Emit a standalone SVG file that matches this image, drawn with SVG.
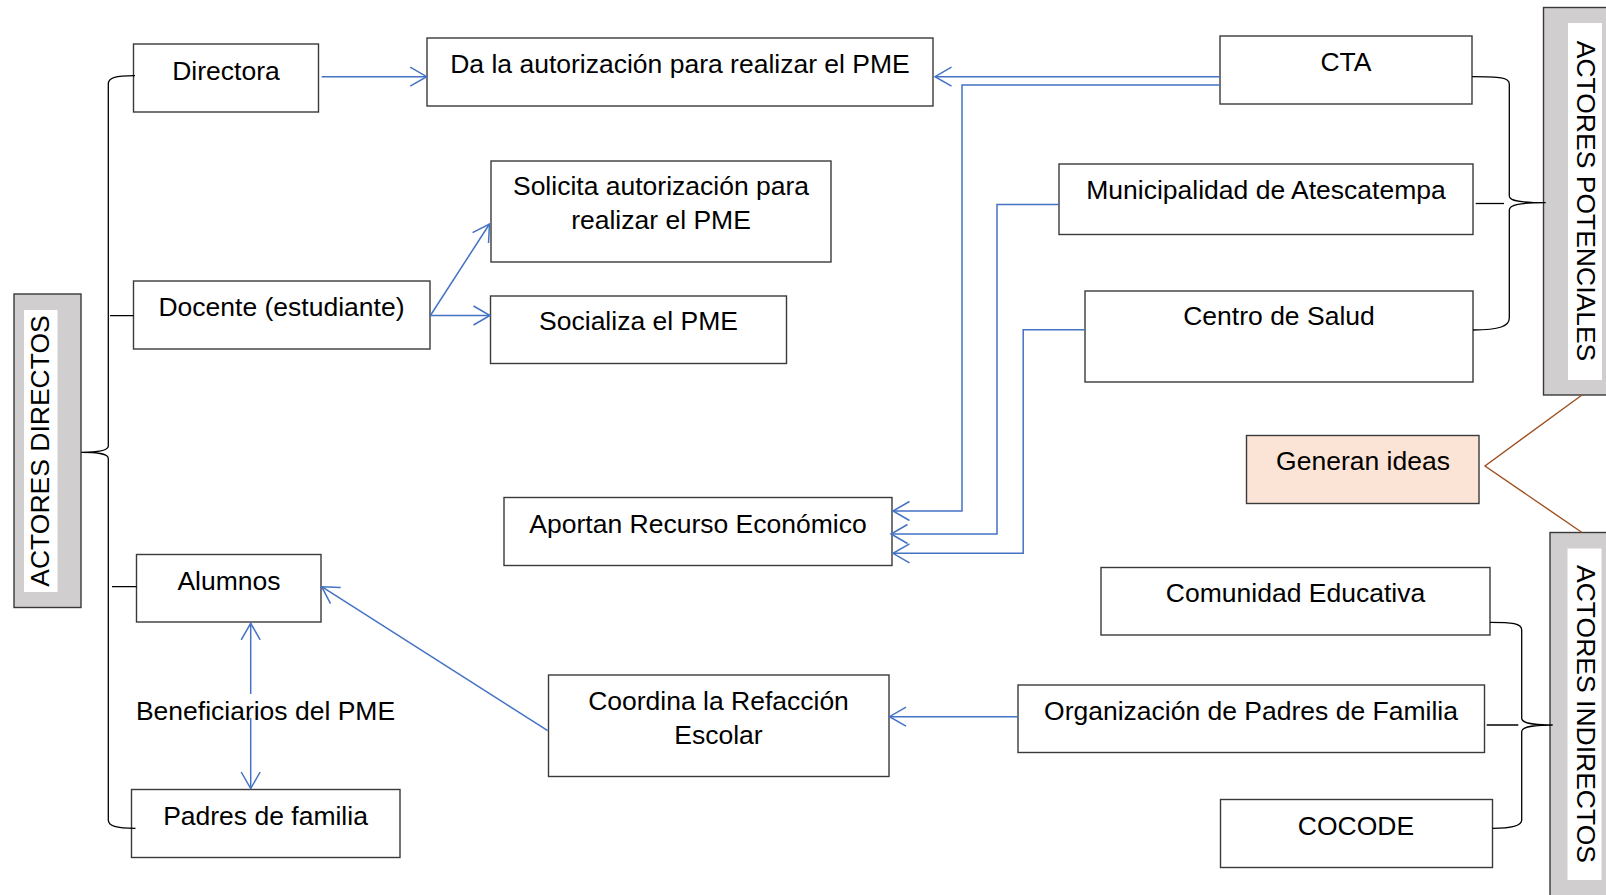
<svg xmlns="http://www.w3.org/2000/svg" width="1606" height="895" viewBox="0 0 1606 895">
<style>
.box{fill:#fff;stroke:#3a3a3a;stroke-width:1.4}
.grp{fill:#D0CECE;stroke:#3a3a3a;stroke-width:1.4}
.strip{fill:#fff;stroke:none}
.t{font-family:"Liberation Sans",Arial,sans-serif;font-size:26.5px;fill:#000;text-anchor:middle}
.br{fill:none;stroke:#000;stroke-width:1.3}
.bl{fill:none;stroke:#4472C4;stroke-width:1.5}
.brown{fill:none;stroke:#A0501E;stroke-width:1.4}
</style>
<defs>
<marker id="arr" viewBox="-19 -12 21 24" refX="0" refY="0" markerWidth="21" markerHeight="24" markerUnits="userSpaceOnUse" orient="auto-start-reverse">
<path d="M-16.5,-9.5 L0,0 L-16.5,9.5" fill="none" stroke="#4472C4" stroke-width="1.5"/>
</marker>
</defs>
<rect width="1606" height="895" fill="#fff"/>

<g id="actores-directos">
<rect class="grp" x="14" y="294" width="67" height="313.5"/>
<rect class="strip" x="24" y="310" width="33.5" height="282"/>
<text class="t" transform="translate(39.5,451) rotate(-90)" y="9.5">ACTORES DIRECTOS</text>
</g>
<g id="actores-potenciales">
<rect class="grp" x="1543.5" y="7.5" width="80" height="387.5"/>
<rect class="strip" x="1568" y="23" width="34" height="357"/>
<text class="t" transform="translate(1586,201) rotate(90)" y="9.5">ACTORES POTENCIALES</text>
</g>
<g id="actores-indirectos">
<rect class="grp" x="1550" y="532.5" width="80" height="380"/>
<rect class="strip" x="1567.5" y="548.5" width="34" height="331.5"/>
<text class="t" transform="translate(1586,714) rotate(90)" y="9.5">ACTORES INDIRECTOS</text>
</g>

<g id="directora"><rect class="box" x="133.5" y="44" width="185" height="68"/><text class="t" x="226" y="79.5">Directora</text></g>
<g id="docente"><rect class="box" x="133.5" y="281" width="296.5" height="68"/><text class="t" x="281.5" y="315.5">Docente (estudiante)</text></g>
<g id="alumnos"><rect class="box" x="136.5" y="554.5" width="184.5" height="67.5"/><text class="t" x="229" y="589.5">Alumnos</text></g>
<g id="padres"><rect class="box" x="131.5" y="789.5" width="268.5" height="68"/><text class="t" x="265.5" y="824.5">Padres de familia</text></g>
<g id="beneficiarios"><text class="t" x="265.5" y="720">Beneficiarios del PME</text></g>

<g id="da-autorizacion"><rect class="box" x="427" y="38" width="506" height="68"/><text class="t" x="680" y="73">Da la autorización para realizar el PME</text></g>
<g id="solicita"><rect class="box" x="491" y="161" width="340" height="101"/><text class="t" x="661" y="195">Solicita autorización para</text><text class="t" x="661" y="228.5">realizar el PME</text></g>
<g id="socializa"><rect class="box" x="490.5" y="296" width="296" height="67.5"/><text class="t" x="638.5" y="330">Socializa el PME</text></g>
<g id="aportan"><rect class="box" x="504" y="497.5" width="388" height="68"/><text class="t" x="698" y="532.5">Aportan Recurso Económico</text></g>
<g id="coordina"><rect class="box" x="548.5" y="675" width="340.5" height="101.5"/><text class="t" x="718.5" y="710">Coordina la Refacción</text><text class="t" x="718.5" y="743.5">Escolar</text></g>

<g id="cta"><rect class="box" x="1220" y="36" width="252" height="68"/><text class="t" x="1346" y="71">CTA</text></g>
<g id="municipalidad"><rect class="box" x="1059" y="164" width="414" height="70.5"/><text class="t" x="1266" y="198.5">Municipalidad de Atescatempa</text></g>
<g id="centro-salud"><rect class="box" x="1085" y="291" width="388" height="91"/><text class="t" x="1279" y="325">Centro de Salud</text></g>
<g id="generan-ideas"><rect x="1246.5" y="435.5" width="232.5" height="68" fill="#FBE4D5" stroke="#3a3a3a" stroke-width="1.4"/><text class="t" x="1363" y="470">Generan ideas</text></g>
<g id="comunidad"><rect class="box" x="1101" y="567.5" width="389" height="67.5"/><text class="t" x="1295.5" y="601.5">Comunidad Educativa</text></g>
<g id="organizacion"><rect class="box" x="1018" y="685" width="466.5" height="67.5"/><text class="t" x="1251" y="719.5">Organización de Padres de Familia</text></g>
<g id="cocode"><rect class="box" x="1220.5" y="799.5" width="272" height="68"/><text class="t" x="1356" y="834.5">COCODE</text></g>

<g id="connectors">
<path class="br" d="M135,75.7 C116,76 108.3,77 108.3,84 L108.3,446 C108.3,450.5 100,452.3 81.3,452.3 C100,452.3 108.3,454 108.3,458.5 L108.3,820 C108.3,826 116,828.3 135.5,828.3"/>
<path class="br" d="M110,315.7 L133.5,315.7 M112,586.7 L136.5,586.7"/>
<path class="br" d="M1472,76.7 C1500,76.7 1509.3,77.5 1509.3,84 L1509.3,196 C1509.3,201 1520,202.7 1545.7,202.7 C1520,202.7 1509.3,204.5 1509.3,210 L1509.3,318 C1509.3,326 1500,330 1473,330"/>
<path class="br" d="M1475.7,203.5 L1504,203.5"/>
<path class="br" d="M1490,622.3 C1512,622.3 1521.7,623.5 1521.7,630 L1521.7,718 C1521.7,723 1530,725 1552.7,725 C1530,725 1521.7,727 1521.7,732 L1521.7,820 C1521.7,826 1512,828.3 1492.5,828.3"/>
<path class="br" d="M1486.7,725 L1518.3,725"/>
<path class="brown" d="M1582,395 L1485,466 L1582,532.5"/>

<path class="bl" marker-end="url(#arr)" d="M321.7,76.7 L426.7,76.7"/>
<path class="bl" marker-end="url(#arr)" d="M430.4,315.5 L490,315.5"/>
<path class="bl" marker-end="url(#arr)" d="M430.4,315.5 L489.5,224"/>
<path class="bl" marker-end="url(#arr)" d="M1220,76.7 L935,76.7"/>
<path class="bl" marker-end="url(#arr)" d="M1220,85 L962,85 L962,511 L893,511"/>
<path class="bl" marker-end="url(#arr)" d="M1059,204.5 L997,204.5 L997,534 L891,534"/>
<path class="bl" marker-end="url(#arr)" d="M1085,329.8 L1023.2,329.8 L1023.2,553.3 L893,553.3"/>
<path class="bl" marker-end="url(#arr)" d="M1018,716.7 L889.5,716.7"/>
<path class="bl" marker-end="url(#arr)" d="M547.7,730.7 L321.7,586.7"/>
<path class="bl" marker-start="url(#arr)" d="M250.7,623.3 L250.7,694"/>
<path class="bl" marker-end="url(#arr)" d="M250.7,718 L250.7,788.5"/>
</g>
</svg>
